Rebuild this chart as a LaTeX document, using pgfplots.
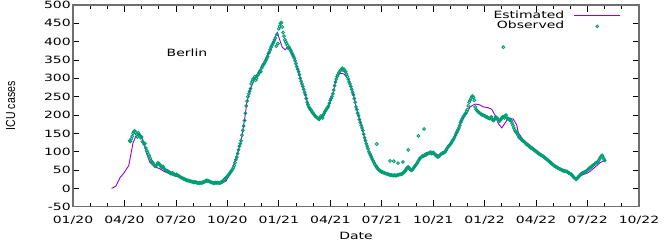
\documentclass[border=0pt]{standalone}
\usepackage{fontspec}
\setmainfont{DejaVu Sans}[FakeStretch=1.4]
\newfontfamily\ylabfont{Liberation Sans}
\usepackage{pgfplots}
\pgfplotsset{compat=1.18}

\definecolor{estcol}{HTML}{9400D3}
\definecolor{obscol}{HTML}{009E73}
\definecolor{framecol}{RGB}{110,110,110}

\pgfplotsset{
    estleg/.style={legend image code/.code={\draw[##1] (0pt,0pt) -- (46pt,0pt);}},
    obsleg/.style={legend image code/.code={\path[draw=none, fill=none] (0pt,-1pt) rectangle (46pt,1pt);
        \draw[##1] plot coordinates {(23pt,0pt)};}},
}

\begin{document}
\begin{tikzpicture}[font=\fontsize{10}{12}\selectfont]
\begin{axis}[
    at={(0,0)}, anchor=south west,
    scale only axis,
    width=566pt, height=201.7pt,
    xmin=0, xmax=33, ymin=-50, ymax=500,
    xtick={0,3,...,33},
    xticklabels={01/20,04/20,07/20,10/20,01/21,04/21,07/21,10/21,01/22,04/22,07/22,10/22},
    minor xtick={0,1,...,33},
    ytick={-50,0,...,500},
    /pgf/number format/assume math mode=true,
    tick align=inside,
    major tick length=6.5pt, minor tick length=3.5pt,
    tick style={black, line width=0.8pt},
    axis line style={draw=framecol, line width=1.5pt},
    yticklabel style={inner sep=0pt, xshift=-2pt},
    xticklabel style={inner sep=0pt, yshift=-9pt},
    xlabel={Date},
    xlabel style={at={(axis description cs:0.5,0)}, anchor=base, yshift=-32.5pt},
    ylabel={\scalebox{1}[1.25]{\ylabfont\fontsize{10.5}{12}\selectfont ICU cases}},
    ylabel style={at={(axis description cs:0,0.5)}, anchor=center, yshift=62.5pt},
    legend plot pos=right,
    legend cell align=right,
    legend style={draw=none, fill=none, inner sep=0pt, at={(rel axis cs:0.968,0.975)}, anchor=north east,
        column sep=9pt, row sep=0pt,
        nodes={inner sep=0.5pt, text height=7.5pt, text depth=2.2pt}},
]
\addplot[estcol, line width=0.9pt, estleg]
coordinates {
(2.25,0) (2.5,6) (2.74,29) (2.97,42) (3.15,55) (3.25,62) (3.5,124) (3.67,143)
(3.9,148) (4.08,132) (4.31,92) (4.49,70) (4.78,59) (5.07,53) (5.36,45) (5.77,37)
(6.12,32) (6.53,23) (6.94,18) (7.41,15) (7.81,17) (7.95,20) (8.1,17) (8.4,14)
(8.69,14) (8.92,20) (9.15,40) (9.35,62) (9.54,87) (9.7,112) (9.84,140) (10.03,196)
(10.13,232) (10.32,269) (10.61,300) (10.9,323) (11.2,346) (11.49,378) (11.72,405) (11.91,425)
(12.05,405) (12.2,385) (12.36,378) (12.5,385) (12.65,382) (12.94,350) (13.14,318) (13.33,287)
(13.53,260) (13.72,223) (14.01,200) (14.3,192) (14.6,198) (14.89,223) (15.18,262) (15.37,305)
(15.57,314) (15.8,312) (16.05,298) (16.34,258) (16.54,214) (16.83,169) (17.03,132) (17.22,105)
(17.51,73) (17.9,51) (18.29,40) (18.68,35) (19.07,37) (19.36,46) (19.55,58) (19.75,50)
(20.04,64) (20.23,80) (20.43,92) (20.62,98) (20.82,98) (21.11,96) (21.3,90) (21.6,96)
(21.9,114) (22.17,132) (22.47,160) (22.66,188) (22.95,205) (23.15,222) (23.44,230) (23.7,228)
(23.93,222) (24.2,220) (24.41,216) (24.6,200) (24.8,176) (25.0,165) (25.19,178) (25.38,192)
(25.67,189) (25.87,173) (25.97,151) (26.26,132) (26.74,114) (27.23,96) (27.62,82) (28.1,62)
(28.59,51) (28.98,42) (29.31,26) (29.66,36) (30.05,43) (30.44,58) (30.73,70) (31.06,78)
};
\addlegendentry{Estimated}
\addplot[obscol, only marks, mark=o, mark size=1.4pt, mark options={line width=0.9pt}, obsleg]
coordinates {
(3.3,130) (3.4,135) (3.5,150) (3.6,157) (3.7,148) (3.8,152) (3.9,145) (4.0,140)
(4.1,125) (4.2,122) (4.3,103) (4.4,92) (4.5,82) (4.6,72) (4.7,66) (4.8,60) (4.9,65) (5.0,68)
(5.1,62) (5.2,57) (5.3,55) (5.4,50) (5.5,48) (5.6,45) (5.7,40) (5.8,42) (5.9,38) (6.0,36)
(6.1,35) (6.2,33) (6.3,30) (6.4,28) (6.5,25) (6.6,23) (6.7,22) (6.8,20) (6.9,19) (7.0,18)
(7.1,17) (7.2,16) (7.3,15) (7.4,16) (7.5,15) (7.6,17) (7.7,19) (7.8,22) (7.9,20) (8.0,18)
(8.1,16) (8.2,15) (8.3,16) (8.4,15) (8.5,15) (8.6,16) (8.7,18) (8.8,23) (8.9,28) (9.0,33)
(9.1,38) (9.2,45) (9.3,52) (9.4,62) (9.5,78) (9.6,95) (9.7,115) (9.8,130) (9.9,158) (10.0,185)
(10.1,225) (10.2,250) (10.3,265) (10.4,285) (10.5,298) (10.6,305) (10.7,300) (10.8,310) (10.9,320) (11.0,328)
(11.1,338) (11.2,345) (11.3,355) (11.4,368) (11.5,378) (11.6,390) (11.7,400) (11.8,410) (11.85,388) (11.9,420)
(11.95,395) (12.0,435) (12.1,450) (12.15,452) (12.2,440) (12.3,415) (12.4,400) (12.5,390) (12.6,385) (12.7,375)
(12.8,365) (12.9,355) (13.0,340)
(13.1,325) (13.2,310) (13.3,292) (13.4,278) (13.5,262) (13.6,245) (13.7,228) (13.8,218) (13.9,212) (14.0,205)
(14.1,198) (14.2,195) (14.3,190) (14.4,192) (14.5,195) (14.6,200) (14.7,210) (14.8,218) (14.9,225) (15.0,240)
(15.1,250) (15.2,268) (15.3,290) (15.4,305) (15.5,315) (15.6,322) (15.7,328) (15.8,325) (15.9,318) (16.0,305)
(16.1,290) (16.2,278) (16.3,262) (16.4,245) (16.5,222) (16.6,205) (16.7,188) (16.8,172) (16.9,158) (17.0,138)
(17.1,122) (17.2,108) (17.3,95) (17.4,85) (17.5,75) (17.6,65) (17.7,58) (17.8,52) (17.9,48) (18.0,45)
(18.1,43) (18.2,41) (18.3,40) (18.4,38) (18.5,37) (18.6,36) (18.7,35) (18.8,35) (18.9,36) (19.0,37)
(19.1,38) (19.2,40) (19.3,44) (19.4,50) (19.5,57) (19.6,55) (19.7,50) (19.8,52) (19.9,58) (20.0,65)
(20.1,72) (20.2,80) (20.3,85) (20.4,88) (20.5,90) (20.6,92) (20.7,95) (20.8,97) (20.9,95) (21.0,98)
(21.1,93) (21.2,88) (21.3,86) (21.4,90) (21.5,95) (21.6,97) (21.7,100) (21.8,108) (21.9,115) (22.0,120)
(22.1,128) (22.2,135) (22.3,145) (22.4,155) (22.5,165) (22.6,180) (22.7,190) (22.8,198) (22.9,205) (23.0,215)
(23.1,235) (23.2,245) (23.3,252) (23.4,240) (23.5,215) (23.6,210) (23.7,205) (23.8,202) (23.9,200) (24.0,198)
(24.1,195) (24.2,192) (24.3,190) (24.4,195) (24.5,185) (24.6,190) (24.7,192) (24.8,188) (24.9,185) (25.0,192)
(25.1,195) (25.2,198) (25.3,192) (25.4,190) (25.5,188) (25.6,178) (25.7,165) (25.8,155) (25.9,150) (26.0,140)
(26.1,135) (26.2,130) (26.3,128) (26.4,122) (26.5,118) (26.6,115) (26.7,110) (26.8,108) (26.9,105) (27.0,100)
(27.1,97) (27.2,93) (27.3,90) (27.4,88) (27.5,84) (27.6,80) (27.7,76) (27.8,72) (27.9,68) (28.0,64)
(28.1,60) (28.2,58) (28.3,55) (28.4,52) (28.5,50) (28.6,48) (28.7,47) (28.8,46) (28.9,42) (29.0,40)
(29.1,36) (29.2,30) (29.3,26) (29.4,28) (29.5,33) (29.6,38) (29.7,42) (29.8,44) (29.9,46) (30.0,50)
(30.1,55) (30.2,58) (30.3,62) (30.4,66) (30.5,70) (30.6,72) (30.7,80) (30.8,88) (30.9,85) (31.0,76)
(17.71,121) (18.48,75) (18.7,74) (18.95,69) (19.24,72) (19.55,105) (20.14,143) (20.47,162) (25.09,385)
(3.35,128) (3.45,142) (3.55,155) (3.65,152) (3.75,140) (3.85,147) (3.95,138) (4.05,127) (4.15,120) (4.25,110)
(4.35,98) (4.45,88) (4.55,76) (4.65,70) (4.75,62) (4.85,63) (4.95,70) (5.05,65) (5.15,58) (5.25,60)
(5.35,52) (5.45,47) (5.55,46) (5.65,43) (5.75,41) (5.85,39) (5.95,37) (6.05,38) (6.15,34) (6.25,31)
(6.35,29) (6.45,26) (6.55,24) (6.65,21) (6.75,21) (6.85,19) (6.95,18) (7.05,16) (7.15,17) (7.25,15)
(7.35,14) (7.45,15) (7.55,16) (7.65,18) (7.75,21) (7.85,21) (7.95,19) (8.05,17) (8.15,15) (8.25,14)
(8.35,15) (8.45,16) (8.55,14) (8.65,17) (8.75,21) (8.85,25) (8.95,30) (9.05,36) (9.15,42) (9.25,48)
(9.35,56) (9.45,70) (9.55,85) (9.65,105) (9.75,122) (9.85,145) (9.95,170) (10.05,205) (10.15,238) (10.25,258)
(10.35,272) (10.45,292) (10.55,300) (10.65,295) (10.75,308) (10.85,315) (10.95,318) (11.05,333) (11.15,340) (11.25,350)
(11.35,360) (11.45,372) (11.55,385) (11.65,395) (11.75,405) (12.05,442) (12.25,425) (12.35,405) (12.45,395) (12.55,382)
(12.65,380) (12.75,370) (12.85,360) (12.95,348) (13.05,332) (13.15,318) (13.25,300) (13.35,285) (13.45,270) (13.55,255)
(13.65,235) (13.75,222) (13.85,215) (13.95,208) (14.05,202) (14.15,196) (14.25,192) (14.35,188) (14.45,197) (14.55,192)
(14.65,205) (14.75,214) (14.85,220) (14.95,232) (15.05,245) (15.15,258) (15.25,280) (15.35,298) (15.45,310) (15.55,318)
(15.65,325) (15.75,322) (15.85,320) (15.95,312) (16.05,298) (16.15,285) (16.25,270) (16.35,255) (16.45,235) (16.55,215)
(16.65,198) (16.75,180) (16.85,165) (16.95,148) (17.05,130) (17.15,115) (17.25,100) (17.35,90) (17.45,80) (17.55,70)
(17.65,62) (17.75,55) (17.85,50) (17.95,46) (18.05,44) (18.15,42) (18.25,40) (18.35,39) (18.45,37) (18.55,36)
(18.65,35) (18.75,36) (18.85,35) (18.95,37) (19.05,38) (19.15,39) (19.25,42) (19.35,47) (19.45,54) (19.55,58)
(19.65,52) (19.75,49) (19.85,55) (19.95,62) (20.05,68) (20.15,76) (20.25,83) (20.35,87) (20.45,89) (20.55,91)
(20.65,94) (20.75,96) (20.85,99) (20.95,96) (21.05,95) (21.15,90) (21.25,86) (21.35,88) (21.45,93) (21.55,96)
(21.65,98) (21.75,104) (21.85,112) (21.95,118) (22.05,124) (22.15,132) (22.25,140) (22.35,150) (22.45,160) (22.55,172)
(22.65,185) (22.75,195) (22.85,202) (22.95,210) (23.05,225) (23.15,240) (23.25,250) (23.35,248) (23.45,222) (23.55,212)
(23.65,208) (23.75,204) (23.85,200) (23.95,199) (24.05,196) (24.15,194) (24.25,191) (24.35,193) (24.45,188) (24.55,187)
(24.65,195) (24.75,190) (24.85,183) (24.95,188) (25.05,195) (25.15,192) (25.25,200) (25.35,190) (25.45,186) (25.55,184)
(25.65,172) (25.75,160) (25.85,152) (25.95,145) (26.05,138) (26.15,132) (26.25,129) (26.35,125) (26.45,120) (26.55,117)
(26.65,112) (26.75,109) (26.85,106) (26.95,102) (27.05,99) (27.15,95) (27.25,92) (27.35,89) (27.45,86) (27.55,82)
(27.65,78) (27.75,74) (27.85,70) (27.95,66) (28.05,62) (28.15,59) (28.25,56) (28.35,54) (28.45,51) (28.55,49)
(28.65,47) (28.75,46) (28.85,44) (28.95,41) (29.05,38) (29.15,33) (29.25,28) (29.35,25) (29.45,30) (29.55,35)
(29.65,40) (29.75,43) (29.85,45) (29.95,48) (30.05,52) (30.15,56) (30.25,60) (30.35,64) (30.45,68) (30.55,71)
(30.65,76) (30.75,84) (30.85,90) (30.95,80)
};
\addlegendentry{Observed}
\node at (axis cs:6.65,370) {Berlin};
\end{axis}
\pgfresetboundingbox
\path[use as bounding box] (-73pt,-35.3pt) rectangle (591pt,206.7pt);
\end{tikzpicture}
\end{document}
